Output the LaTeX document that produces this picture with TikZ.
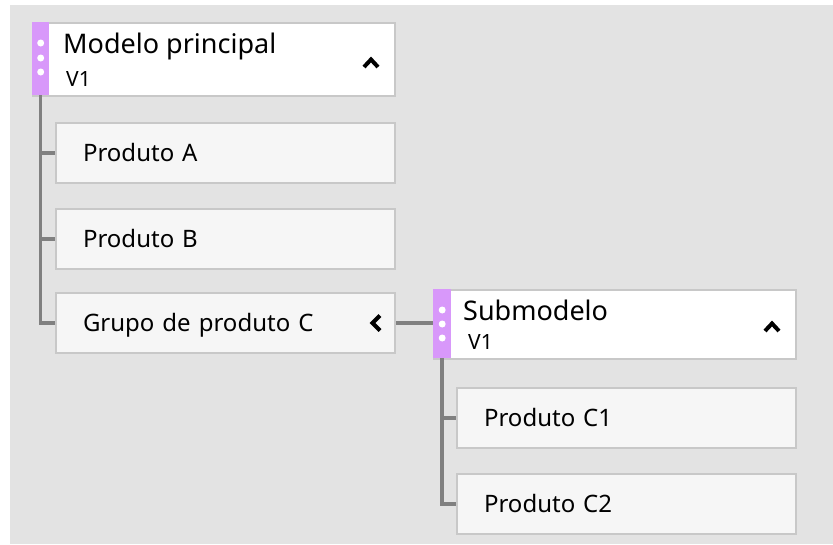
\documentclass[tikz,border=0pt]{standalone}
\usepackage{fontspec}
\setmainfont{Noto Sans}
\usetikzlibrary{positioning,calc}

\definecolor{canvas}{RGB}{227,227,227}
\definecolor{boxline}{RGB}{200,200,200}
\definecolor{itemfill}{RGB}{246,246,246}
\definecolor{grip}{RGB}{216,152,250}
\definecolor{treeline}{RGB}{128,128,128}

\newcommand{\ttlfont}{\fontsize{27}{30}\selectfont}
\newcommand{\itemfont}{\fontsize{24}{28}\selectfont}
\newcommand{\verfont}{\fontsize{21}{24}\selectfont}

\tikzset{
  hdr/.style={draw=boxline,line width=2pt,fill=white,minimum width=362pt,
    anchor=north west,inner sep=0pt},
  item/.style={draw=boxline,line width=2pt,fill=itemfill,anchor=north west,
    minimum height=60pt,inner xsep=27pt,inner ysep=0pt,text width=285pt,
    align=left,text height=17pt,text depth=0pt,font=\itemfont},
  gripbar/.style={fill=grip,minimum width=17pt,anchor=north west,inner sep=0pt},
  gripdot/.style={circle,fill=white,inner sep=0pt,minimum size=7pt},
  tree/.style={draw=treeline,line width=3.5pt},
  chev/.style={line width=4pt,line join=miter}
}

\begin{document}
\begin{tikzpicture}[x=1pt,y=-1pt]
\useasboundingbox (0,0) rectangle (833,544);
\fill[canvas] (10,5) rectangle (833,544);

% main model
\node[hdr,minimum height=73pt] (main) at (32,22) {};
\node[gripbar,minimum height=73pt] (mainbar) at (32,22) {};
\foreach \dy in {21,36,50}
  \node[gripdot] at ($(mainbar.north)+(0,\dy)$) {};
\node[anchor=base west,font=\ttlfont,inner sep=0pt] (mainT) at (63,53) {Modelo principal};
\node[anchor=base west,font=\verfont,inner sep=0pt] (mainV) at (66,86) {V1};
\draw[chev] (364,67) -- (371,59.5) -- (378,67);

\node[item] (prodA) at (55,122) {Produto A};
\node[item] (prodB) at (55,208) {Produto B};
\node[item] (grupoC) at (55,292) {Grupo de produto C};
\draw[chev] ($(grupoC.east)+(-16,-7.5)$) -- ++(-7.5,7.5) -- ++(7.5,7.5);

\draw[tree] (mainbar.south) |- (prodA.west);
\draw[tree] (mainbar.south) |- (prodB.west);
\draw[tree] (mainbar.south) |- (grupoC.west);

% submodel
\node[hdr,minimum height=69pt] (sub) at (433,289) {};
\node[gripbar,minimum width=18pt,minimum height=69pt] (subbar) at (433,289) {};
\foreach \dy in {21,35,49}
  \node[gripdot] at ($(subbar.north)+(0,\dy)$) {};
\node[anchor=base west,font=\ttlfont,inner sep=0pt] (subT) at (463,320) {Submodelo};
\node[anchor=base west,font=\verfont,inner sep=0pt] (subV) at (468,349) {V1};
\draw[chev] (765,331) -- (772,323.5) -- (779,331);

\node[item] (prodC1) at (456,387) {Produto C1};
\node[item] (prodC2) at (456,473) {Produto C2};

\draw[tree] (grupoC.east) -- (grupoC.east -| subbar.west);
\draw[tree] (subbar.south) |- (prodC1.west);
\draw[tree] (subbar.south) |- (prodC2.west);
\end{tikzpicture}
\end{document}
